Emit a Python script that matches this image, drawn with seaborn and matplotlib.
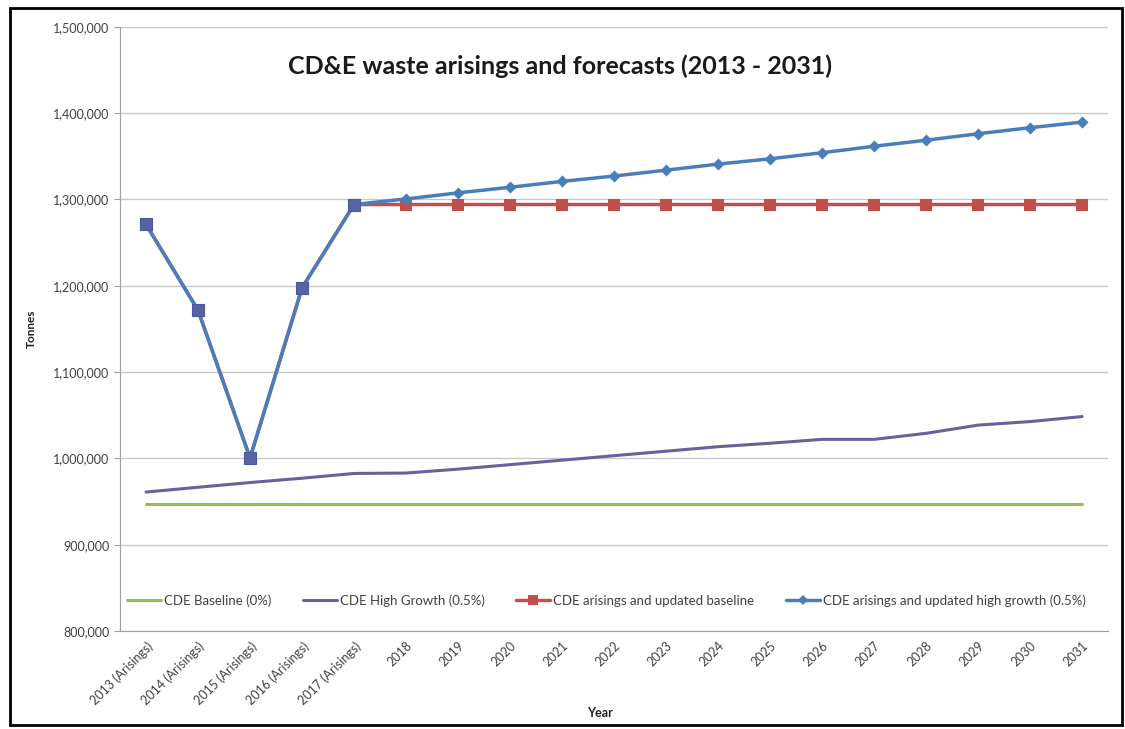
import numpy as np
import pandas as pd
import matplotlib
matplotlib.use('Agg')
import matplotlib.pyplot as plt
from matplotlib.lines import Line2D
from matplotlib.patches import Rectangle
from matplotlib.ticker import FuncFormatter, MultipleLocator
import seaborn as sns

years = ['2013 (Arisings)', '2014 (Arisings)', '2015 (Arisings)', '2016 (Arisings)', '2017 (Arisings)',
         '2018', '2019', '2020', '2021', '2022', '2023', '2024', '2025', '2026', '2027', '2028', '2029',
         '2030', '2031']
n_arisings = 5

baseline = [947000] * 19
high_growth = [961000, 966500, 972000, 977000, 982500, 983000, 987500, 992700, 997900, 1003100,
               1008300, 1013500, 1017500, 1022000, 1022000, 1029000, 1038500, 1042600, 1048400]
updated_baseline = [1271000, 1171500, 1000500, 1197500, 1294000, 1294000, 1294000, 1294000, 1294000,
                    1294000, 1294000, 1294000, 1294000, 1294000, 1294000, 1294000, 1294000, 1294000,
                    1294000]
updated_high = [1271000, 1171500, 1000500, 1197500, 1294000, 1300500, 1307500, 1314000, 1320800,
                1327000, 1333800, 1340800, 1347000, 1354000, 1361500, 1368500, 1376000, 1383000,
                1389500]

labels = ['CDE Baseline (0%)', 'CDE High Growth (0.5%)', 'CDE arisings and updated baseline',
          'CDE arisings and updated high growth (0.5%)']

green = '#9bbb59'
purple = '#6e5f9a'
red = '#c0504d'
blue = '#4a7ebb'
arisings_marker = '#5a62a6'


def main():
    sns.set_style('white')
    plt.rcParams['font.family'] = ['Lato', 'DejaVu Sans']

    df = pd.DataFrame({'year': years, 'baseline': baseline, 'high': high_growth,
                       'upd_base': updated_baseline, 'upd_high': updated_high})
    df['pos'] = np.arange(len(df))

    fig = plt.figure(figsize=(11.25, 7.29), dpi=100)
    ax = fig.add_axes([0.1067, 0.1344, 0.8783, 0.8290])

    sns.lineplot(x='pos', y='baseline', data=df, color=green, linewidth=2.2, ax=ax, zorder=3)
    sns.lineplot(x='pos', y='high', data=df, color=purple, linewidth=2.2, ax=ax, zorder=3)
    sns.lineplot(x='pos', y='upd_base', data=df, color=red, linewidth=2.5, marker='s',
                 markersize=8, markeredgewidth=0, ax=ax, zorder=4)
    sns.lineplot(x='pos', y='upd_high', data=df, color=blue, linewidth=2.5, ax=ax, zorder=5)

    past = df.iloc[:n_arisings]
    future = df.iloc[n_arisings:]
    ax.scatter(past['pos'], past['upd_high'], marker='s', s=80, color=arisings_marker,
               edgecolor='#4a5a9a', linewidth=0.8, zorder=6)
    ax.scatter(future['pos'], future['upd_high'], marker='D', s=38, color=blue,
               linewidth=0, zorder=6)

    ax.set_xlim(-0.5, len(years) - 0.5)
    ax.set_ylim(800000, 1500000)
    ax.yaxis.set_major_locator(MultipleLocator(100000))
    ax.yaxis.set_major_formatter(FuncFormatter(lambda v, p: f'{int(v):,}'))
    ax.set_xticks(df['pos'])
    ax.set_xticklabels(years, rotation=45, ha='right', rotation_mode='anchor')
    ax.tick_params(axis='x', labelsize=9, labelcolor='#404040', pad=6, length=0)
    ax.tick_params(axis='y', labelsize=9, labelcolor='#404040', length=4, color='#a0a0a0',
                   direction='out', left=True)

    ax.grid(axis='y', color='#c8c8c8', linewidth=1)
    ax.set_axisbelow(True)
    for side in ['top', 'right']:
        ax.spines[side].set_visible(False)
    ax.spines['left'].set_color('#a0a0a0')
    ax.spines['bottom'].set_color('#a0a0a0')

    ax.set_xlabel('Year', fontsize=9, fontweight='bold', color='#202020')
    ax.xaxis.set_label_coords(0.486, -0.125)
    ax.set_ylabel('Tonnes', fontsize=8.5, fontweight='bold', color='#202020', labelpad=12)
    ax.text(0.445, 0.935, 'CD&E waste arisings and forecasts (2013 - 2031)', transform=ax.transAxes,
            ha='center', va='center', fontsize=18, fontweight='bold', color='#1a1a1a')

    handles = [Line2D([], [], color=green, linewidth=2.2),
               Line2D([], [], color=purple, linewidth=2.2),
               Line2D([], [], color=red, linewidth=2.5, marker='s', markersize=7, markeredgewidth=0),
               Line2D([], [], color=blue, linewidth=2.5, marker='D', markersize=5, markeredgewidth=0)]
    ax.legend(handles, labels, loc='center', bbox_to_anchor=(0.492, 0.05), ncol=4, frameon=False,
              fontsize=9.5, labelcolor='#404040', handlelength=2.6, handletextpad=0.2,
              columnspacing=2.4)

    fig.patches.append(Rectangle((0.009, 0.005), 0.988, 0.984, transform=fig.transFigure,
                                 fill=False, edgecolor='black', linewidth=2))

    fig.savefig('out.png', dpi=100)


if __name__ == '__main__':
    main()
